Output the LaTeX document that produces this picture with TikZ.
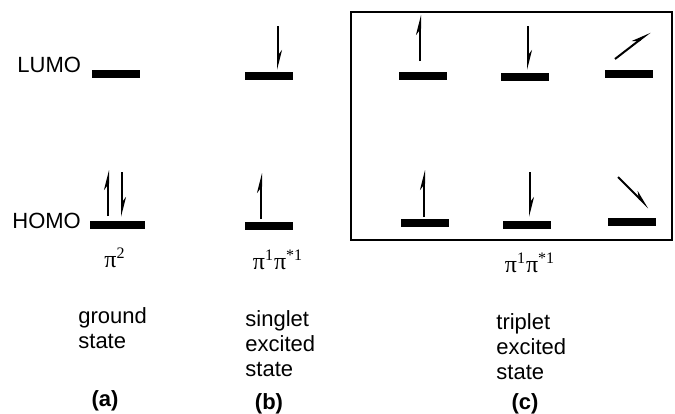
\documentclass[tikz,border=0pt]{standalone}
\usepackage{fontspec}
\setmainfont{Liberation Sans}
\newfontfamily\greekfont{Liberation Serif}
\usetikzlibrary{arrows.meta}

\tikzset{
  mo/.style={fill=black, inner sep=0pt, minimum width=24pt, minimum height=4pt},
  spin/.style={line width=1pt, -{Stealth[left, length=8pt, width=4pt]}},
  orb/.style={font=\fontsize{11}{12}\selectfont, inner sep=0pt, anchor=west},
  config/.style={font=\greekfont\fontsize{12}{14}\selectfont, inner sep=0pt},
  statetext/.style={font=\fontsize{11}{12.5}\selectfont, align=left, anchor=north west, inner sep=0pt},
  tag/.style={font=\bfseries\fontsize{11}{12}\selectfont, anchor=base, inner sep=0pt}
}

\begin{document}
\begin{tikzpicture}[x=0.5pt, y=-0.5pt]
\useasboundingbox (0,0) rectangle (675,413);
% --- orbital labels ---
\node[orb] (lumo) at (17,65) {LUMO};
\node[orb] (homo) at (12,221) {HOMO};
% --- (a) ground state ---
\node[mo] (g1) at (116,74) {};
\node[mo, minimum width=27.5pt] (g0) at (117.5,225) {};
\draw[spin] (108,216) -- (108,170);
\draw[spin] (122,172) -- (122,217);
% --- (b) singlet excited state ---
\node[mo] (s1) at (269,76) {};
\node[mo] (s0) at (269,226) {};
\draw[spin] (278,26) -- (278,70);
\draw[spin] (261,219) -- (261,173);
% --- (c) triplet excited state, three sublevels in a box ---
\draw[line width=0.8pt] (351,12) rectangle (672,240);
\node[mo] (ta1) at (423,76) {};
\node[mo] (ta0) at (425,223) {};
\draw[spin] (420,61) -- (420,15);
\draw[spin] (424,217) -- (424,170);
\node[mo] (tb1) at (525,77) {};
\node[mo] (tb0) at (527,225) {};
\draw[spin] (528,26) -- (528,70);
\draw[spin] (530,172) -- (530,217);
\node[mo] (tc1) at (629,74) {};
\node[mo] (tc0) at (632,222) {};
\draw[spin] (615,59) -- (650,32);
\draw[spin] (618,177) -- (649,208);
% --- configurations ---
\node[config] (pa) at (115,258) {π\textsuperscript{2}};
\node[config] (pb) at (278,260) {π\textsuperscript{1}π\textsuperscript{*1}};
\node[config] (pc) at (530,263) {π\textsuperscript{1}π\textsuperscript{*1}};
% --- state names ---
\node[statetext] (ga) at (78,307) {ground\\state};
\node[statetext] (sb) at (245,310) {singlet\\excited\\state};
\node[statetext] (tc) at (496,313) {triplet\\excited\\state};
\node[tag] (a) at (105,406) {(a)};
\node[tag] (b) at (269,409) {(b)};
\node[tag] (c) at (525,409) {(c)};
\end{tikzpicture}
\end{document}
